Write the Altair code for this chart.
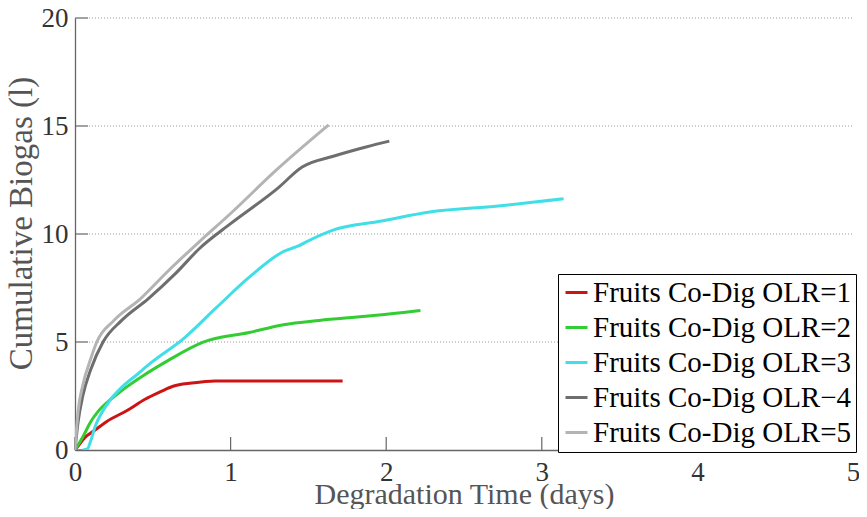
import altair as alt
import pandas as pd

series_names = [
    "Fruits Co-Dig OLR=1",
    "Fruits Co-Dig OLR=2",
    "Fruits Co-Dig OLR=3",
    "Fruits Co-Dig OLR\u22124",
    "Fruits Co-Dig OLR=5",
]
series_colors = ["#CC1414", "#33CC33", "#40DEE6", "#6E6E6E", "#B4B4B4"]

# OLR=1
t1 = [0, 0.03, 0.06, 0.12, 0.2, 0.34, 0.45, 0.55, 0.63, 0.75, 0.9, 1.2, 1.5, 1.72]
g1 = [0, 0.28, 0.55, 0.88, 1.3, 1.85, 2.35, 2.7, 2.95, 3.1, 3.2, 3.2, 3.2, 3.2]
# OLR=2
t2 = [0, 0.05, 0.1, 0.15, 0.23, 0.3, 0.44, 0.6, 0.82, 1.12, 1.34, 1.57, 1.87, 2.22]
g2 = [0, 0.6, 1.3, 1.8, 2.35, 2.75, 3.45, 4.15, 4.98, 5.44, 5.8, 6.0, 6.19, 6.46]
# OLR=3
t3 = [0.05, 0.08, 0.1, 0.13, 0.17, 0.23, 0.3, 0.4, 0.485, 0.7, 0.91, 1.12, 1.34,
      1.44, 1.49, 1.65, 1.97, 2.29, 2.72, 3.14]
g3 = [0, 0.05, 0.4, 1.1, 1.7, 2.35, 2.9, 3.5, 4.02, 5.17, 6.6, 8.0, 9.19,
      9.46, 9.65, 10.16, 10.6, 11.03, 11.3, 11.63]
# OLR=4
t4 = [0, 0.02, 0.05, 0.1, 0.18, 0.3, 0.47, 0.65, 0.8, 1.0, 1.3, 1.46, 1.66, 1.87, 2.02]
g4 = [0, 1.3, 2.5, 3.7, 5.0, 6.0, 7.0, 8.2, 9.33, 10.48, 12.1, 13.1, 13.6, 14.03, 14.3]
# OLR=5
t5 = [0, 0.02, 0.05, 0.1, 0.14, 0.25, 0.42, 0.6, 0.8, 1.0, 1.3, 1.63]
g5 = [0, 1.8, 3.0, 4.2, 5.0, 6.0, 7.0, 8.3, 9.65, 10.95, 13.0, 15.05]

x_ticks = [0, 1, 2, 3, 4, 5]
y_ticks = [0, 5, 10, 15, 20]
y_grid = [5, 10, 15, 20]

rows = []
for name, ts, gs in zip(series_names, [t1, t2, t3, t4, t5], [g1, g2, g3, g4, g5]):
    for i, (a, b) in enumerate(zip(ts, gs)):
        rows.append({"series": name, "t": a, "gas": b, "order": i})
df = pd.DataFrame(rows)

W, H = 778, 432
TICK = 13
axis_color = "#666666"
font = "Liberation Serif"

xscale = alt.Scale(domain=[0, 5], nice=False, zero=False)
yscale = alt.Scale(domain=[0, 20], nice=False, zero=False)

xaxis = alt.Axis(
    values=x_ticks, format="d", title="Degradation Time (days)",
    grid=False, ticks=False, labelPadding=9,
    titleBaseline="alphabetic", titleY=53,
    labelFlush=False, labelOverlap=False,
)
yaxis = alt.Axis(
    values=y_ticks, format="d", title="Cumulative Biogas (l)",
    grid=False, ticks=False, labelPadding=7, titlePadding=3,
    labelFlush=False, labelOverlap=False, titleY=205,
)

grid = alt.Chart(pd.DataFrame({"v": y_grid})).mark_rule(
    color="#9a9a9a", strokeDash=[1, 2], strokeWidth=1
).encode(
    y=alt.Y("v:Q", scale=yscale, axis=yaxis),
    x=alt.value(TICK + 1),
    x2=alt.value(W),
)

lines = alt.Chart(df).mark_line(strokeWidth=3, clip=True, interpolate="monotone").encode(
    x=alt.X("t:Q", scale=xscale, axis=xaxis),
    y=alt.Y("gas:Q", scale=yscale, axis=yaxis),
    color=alt.Color(
        "series:N",
        scale=alt.Scale(domain=series_names, range=series_colors),
        legend=alt.Legend(
            orient="none", legendX=483, legendY=256, title=None,
            symbolType="stroke", symbolSize=484, symbolStrokeWidth=3,
            labelFont=font, labelFontSize=29, labelColor="black",
            rowPadding=5, padding=4, strokeColor="black", fillColor="white",
            labelOffset=2, labelLimit=0, cornerRadius=0,
        ),
    ),
    order="order:Q",
)

xt = alt.Chart(pd.DataFrame({"v": x_ticks})).mark_rule(
    color=axis_color, strokeWidth=1.2
).encode(
    x=alt.X("v:Q", scale=xscale, axis=xaxis),
    y=alt.value(H),
    y2=alt.value(H - TICK),
)

yt = alt.Chart(pd.DataFrame({"v": y_ticks})).mark_rule(
    color=axis_color, strokeWidth=1.2
).encode(
    y=alt.Y("v:Q", scale=yscale, axis=yaxis),
    x=alt.value(0),
    x2=alt.value(TICK),
)

chart = alt.layer(grid, xt, yt, lines).properties(
    width=W,
    height=H,
    autosize=alt.AutoSizeParams(type="none"),
    padding={"left": 67, "top": 10, "right": 6, "bottom": 59},
    background="white",
).configure_view(stroke=None).configure_axis(
    domainColor=axis_color,
    domainWidth=1.3,
    labelFont=font,
    labelFontSize=27,
    labelColor="#333333",
    titleFont=font,
    titleFontWeight="normal",
    titleColor="#555555",
).configure_axisX(titleFontSize=30).configure_axisY(titleFontSize=33)

chart.save("out.html", embed_options={"renderer": "svg", "actions": False})
